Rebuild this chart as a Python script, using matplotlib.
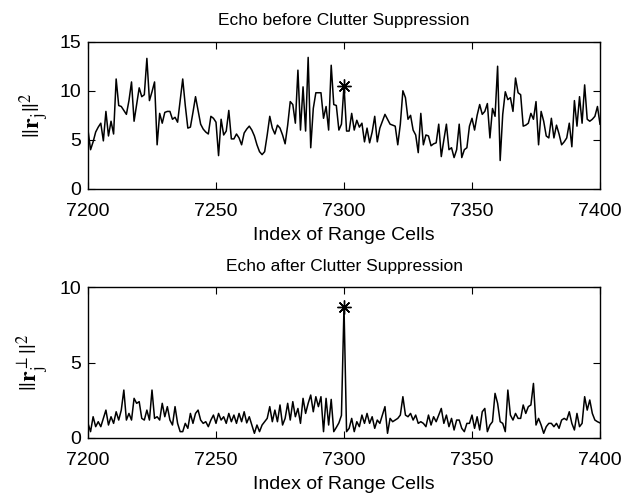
import matplotlib
matplotlib.use("Agg")
import matplotlib.pyplot as plt
import numpy as np

plt.rcParams['font.family'] = ['Liberation Sans', 'DejaVu Sans']
plt.rcParams['mathtext.fontset'] = 'stix'

# range cell index 7200..7400
cells = np.arange(7200, 7401)
target_cell = 7300

# ||r_j||^2 before clutter suppression
echo_before = [
    6.0, 4.0, 4.8, 5.8, 6.3, 6.7, 4.9, 7.9, 5.4, 6.9,
    5.6, 11.2, 8.5, 8.4, 8.0, 7.6, 9.0, 10.9, 6.9, 8.6,
    10.3, 9.4, 9.6, 13.3, 9.0, 9.9, 10.9, 4.5, 7.7, 6.7,
    7.8, 7.9, 7.9, 7.1, 7.3, 6.8, 9.0, 11.2, 8.5, 6.2,
    6.3, 7.8, 9.4, 8.0, 6.6, 6.1, 5.8, 5.6, 7.4, 7.2,
    6.8, 3.4, 7.1, 5.5, 5.9, 8.0, 5.1, 5.1, 5.6, 5.2,
    4.5, 5.7, 6.1, 6.4, 6.0, 5.4, 4.5, 3.8, 3.5, 3.8,
    5.5, 7.4, 6.2, 5.6, 6.5, 6.2, 5.5, 4.6, 6.5, 8.9,
    8.6, 6.7, 12.1, 6.0, 10.4, 5.9, 13.4, 4.2, 8.2, 9.8,
    9.8, 9.8, 7.2, 8.4, 6.0, 12.6, 8.6, 8.5, 6.0, 6.6,
    10.5, 5.9, 5.9, 7.7, 6.0, 7.0, 6.3, 6.7, 4.8, 6.2,
    4.7, 5.8, 7.4, 4.8, 6.2, 6.9, 7.6, 7.1, 6.6, 6.5,
    6.4, 4.5, 6.6, 10.0, 9.3, 7.1, 7.5, 6.0, 5.5, 3.7,
    7.7, 4.5, 5.5, 5.4, 4.4, 4.6, 4.7, 6.6, 3.3, 5.0,
    6.6, 4.0, 4.2, 3.2, 4.0, 6.6, 3.2, 4.0, 4.2, 6.4,
    7.2, 6.0, 7.5, 8.6, 7.6, 7.9, 8.7, 5.2, 8.2, 7.4,
    12.5, 2.9, 7.6, 9.9, 9.1, 9.3, 7.9, 11.3, 9.8, 9.6,
    6.4, 6.5, 6.7, 7.7, 7.1, 8.9, 4.5, 7.9, 6.9, 5.4,
    5.2, 7.2, 5.2, 6.5, 5.6, 4.5, 4.8, 5.2, 6.7, 4.3,
    9.0, 6.4, 9.4, 6.7, 10.6, 7.1, 6.9, 7.1, 7.4, 8.4,
    6.6,
]

# ||r_j^perp||^2 after clutter suppression
echo_after = [
    0.97, 0.42, 1.41, 0.75, 1.08, 0.75, 1.3, 1.85, 0.86, 1.41,
    0.97, 1.74, 1.19, 1.85, 3.18, 1.19, 1.63, 1.19, 2.63, 2.30,
    2.41, 1.3, 1.19, 1.85, 1.19, 3.18, 1.3, 1.41, 1.19, 2.30,
    1.41, 2.08, 1.19, 0.86, 2.08, 0.97, 0.42, 0.42, 0.97, 0.64,
    1.63, 0.97, 1.63, 1.85, 1.19, 0.97, 1.08, 0.75, 1.19, 1.52,
    0.97, 1.63, 1.19, 1.41, 0.97, 1.63, 1.08, 1.52, 0.97, 1.63,
    1.08, 1.74, 1.0, 1.41, 0.86, 0.31, 0.86, 0.42, 0.86, 1.08,
    1.3, 2.08, 1.08, 1.85, 1.08, 2.19, 0.86, 1.3, 2.30, 1.19,
    2.41, 1.41, 1.96, 0.97, 2.63, 1.63, 2.30, 2.85, 1.74, 2.74,
    2.08, 2.74, 0.42, 2.63, 0.86, 2.56, 0.42, 0.7, 1.0, 1.5,
    8.7, 0.42, 0.64, 1.3, 0.42, 1.08, 0.75, 1.52, 0.97, 1.63,
    0.97, 1.41, 0.64, 1.19, 0.97, 1.52, 2.08, 0.31, 1.3, 1.08,
    1.19, 1.3, 1.52, 2.74, 1.52, 1.41, 1.63, 1.19, 1.52, 0.97,
    1.08, 0.97, 0.75, 1.52, 0.86, 1.41, 1.08, 1.52, 1.96, 0.97,
    1.52, 0.75, 1.3, 0.53, 1.19, 1.19, 0.64, 0.42, 0.97, 0.97,
    1.52, 0.64, 1.41, 0.53, 1.74, 1.96, 0.42, 0.86, 1.08, 2.96,
    2.30, 1.08, 0.97, 0.42, 3.18, 1.52, 1.19, 1.63, 1.3, 1.3,
    2.19, 1.63, 2.08, 2.19, 3.62, 0.86, 1.3, 0.86, 0.31, 0.75,
    0.97, 0.97, 0.75, 0.97, 0.64, 1.19, 1.3, 1.19, 1.74, 0.97,
    0.53, 1.63, 0.75, 0.97, 2.74, 1.85, 2.52, 1.63, 1.19, 1.08,
    1.0,
]

xticks = [7200, 7250, 7300, 7350, 7400]

fig = plt.figure(figsize=(6.21, 4.95), dpi=100)
ax1 = fig.add_axes([0.1417, 0.6182, 0.8245, 0.2976])
ax2 = fig.add_axes([0.1417, 0.1152, 0.8245, 0.3044])

panels = [
    (ax1, echo_before, [0, 5, 10, 15], 15, 'Echo before Clutter Suppression',
     r'$||\mathbf{r}_\mathrm{j}||^2$'),
    (ax2, echo_after, [0, 5, 10], 10, 'Echo after Clutter Suppression',
     r'$||\mathbf{r}_\mathrm{j}^{\perp}||^2$'),
]

for ax, vals, yt, ymax, title, ylab in panels:
    vals = np.array(vals)
    ax.plot(cells, vals, color='black', lw=1.1)
    k = list(cells).index(target_cell)
    # MATLAB-style asterisk marker on the target cell
    ax.plot(cells[k], vals[k], marker=(8, 2, 0), color='black', ms=10,
            markeredgewidth=1.0, linestyle='none')
    ax.set_xlim(7200, 7400)
    ax.set_ylim(0, ymax)
    ax.set_xticks(xticks)
    ax.set_yticks(yt)
    ax.tick_params(direction='in', top=True, right=True, length=5,
                   width=0.8, labelsize=14)
    ax.tick_params(axis='x', pad=10)
    ax.tick_params(axis='y', pad=5)
    for s in ax.spines.values():
        s.set_linewidth(1.0)
    ax.set_title(title, fontsize=12.5, pad=12)
    ax.set_xlabel('Index of Range Cells', fontsize=14, labelpad=5)
    ax.set_ylabel(ylab, fontsize=17, labelpad=6)

fig.savefig('out.png', dpi=100)
